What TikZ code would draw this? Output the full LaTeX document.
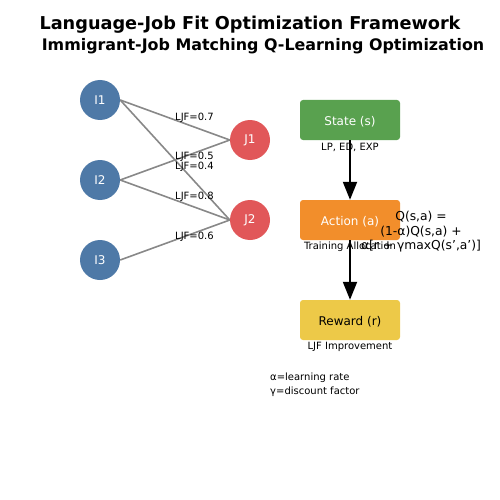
\documentclass[tikz,border=0pt]{standalone}
\usepackage{fontspec}
\setmainfont{DejaVu Sans}
\usetikzlibrary{arrows.meta}
\definecolor{cblue}{HTML}{4E79A7}
\definecolor{cred}{HTML}{E15759}
\definecolor{cgreen}{HTML}{59A14F}
\definecolor{corange}{HTML}{F28E2B}
\definecolor{cyellow}{HTML}{EDC948}
\definecolor{cedge}{HTML}{888888}
\tikzset{
  inode/.style={circle, fill=cblue, minimum size=40pt, inner sep=0pt, text=white, font=\fontsize{12}{13}\selectfont},
  jnode/.style={circle, fill=cred, minimum size=40pt, inner sep=0pt, text=white, font=\fontsize{12}{13}\selectfont},
  rlbox/.style={rounded corners=3pt, minimum width=100pt, minimum height=40pt, inner sep=0pt, font=\fontsize{12}{13}\selectfont},
  boxtext/.style={inner sep=0pt, font=\fontsize{12}{13}\selectfont},
  edge/.style={draw=cedge, line width=1.6pt},
  elabel/.style={font=\fontsize{10}{11}\selectfont, inner sep=0pt, anchor=west},
  sublabel/.style={font=\fontsize{10}{11}\selectfont, inner sep=0pt},
  flow/.style={draw=black, line width=2pt, -{Triangle[length=18pt, width=14pt]}},
}
\begin{document}
\begin{tikzpicture}[x=1pt,y=-1pt]
\useasboundingbox (0,0) rectangle (500,500);
\node[font=\bfseries\fontsize{17.7}{19}\selectfont] (title) at (250,25) {Language-Job Fit Optimization Framework};
\node[font=\bfseries\fontsize{15.9}{17}\selectfont] (subtitle) at (263,46) {Immigrant-Job Matching Q-Learning Optimization};

\coordinate (cI1) at (100,100);
\coordinate (cI2) at (100,180);
\coordinate (cI3) at (100,260);
\coordinate (cJ1) at (250,140);
\coordinate (cJ2) at (250,220);
\path (cI1) node[inode, fill=none] (I1) {}
      (cI2) node[inode, fill=none] (I2) {}
      (cI3) node[inode, fill=none] (I3) {}
      (cJ1) node[jnode, fill=none] (J1) {}
      (cJ2) node[jnode, fill=none] (J2) {};

\draw[edge] (I1.east) -- (J1.west);
\draw[edge] (I1.east) -- (J2.west);
\draw[edge] (I2.east) -- (J1.west);
\draw[edge] (I2.east) -- (J2.west);
\draw[edge] (I3.east) -- (J2.west);
\node[inode] (I1f) at (cI1) {I1};
\node[inode] (I2f) at (cI2) {I2};
\node[inode] (I3f) at (cI3) {I3};
\node[jnode] (J1f) at (cJ1) {J1};
\node[jnode] (J2f) at (cJ2) {J2};

\node[elabel] (l1) at (175,118) {LJF=0.7};
\node[elabel] (l2) at (175,157) {LJF=0.5};
\node[elabel] (l3) at (175,167) {LJF=0.4};
\node[elabel] (l4) at (175,197) {LJF=0.8};
\node[elabel] (l5) at (175,237) {LJF=0.6};

\node[rlbox, fill=cgreen] (S) at (350,120) {};
\node[rlbox, fill=corange] (A) at (350,220) {};
\node[rlbox, fill=cyellow] (R) at (350,320) {};
\node[boxtext, text=white] (St) at (350,121.5) {State (s)};
\node[boxtext, text=white] (At) at (350,221.5) {Action (a)};
\node[boxtext, text=black] (Rt) at (350,321.5) {Reward (r)};

\node[sublabel] (Sl) at (350,147) {LP, ED, EXP};
\node[sublabel] (Al) at (350,247) {Training Allocation};
\node[sublabel] (Rl) at (350,347) {LJF Improvement};

\draw[flow] (S.south) -- (A.north);
\draw[flow] (A.south) -- (R.north);

\node[font=\fontsize{12.3}{14.5}\selectfont, align=center, inner sep=0pt] (Q) at (421,232) {Q(s,a) =\\(1-α)Q(s,a) +\\α[r + γmaxQ(s',a')]};

\node[font=\fontsize{10}{14}\selectfont, align=left, inner sep=0pt, anchor=west] (leg) at (270,385) {α=learning rate\\γ=discount factor};
\end{tikzpicture}
\end{document}
